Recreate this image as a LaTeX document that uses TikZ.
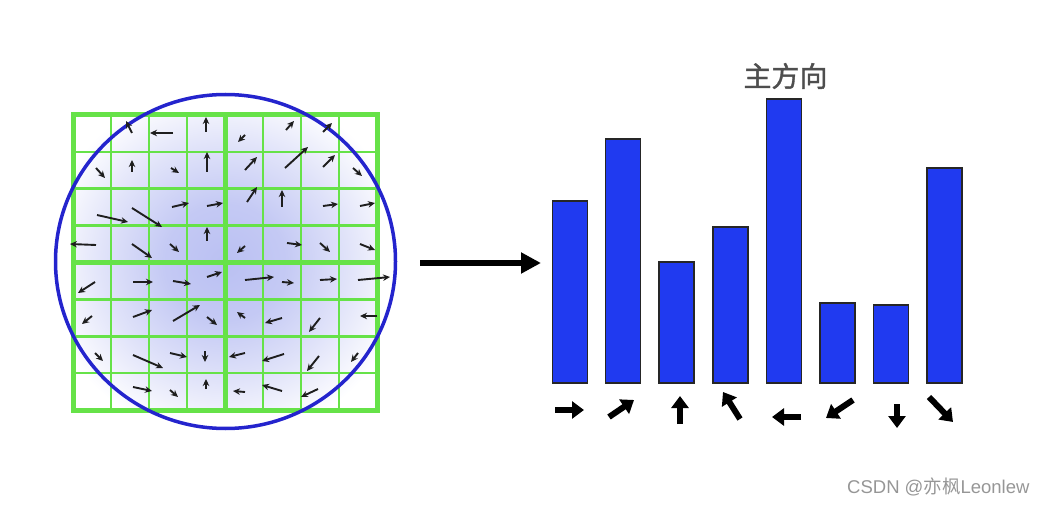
\documentclass[tikz,border=0pt]{standalone}
\usepackage{fontspec}
\newfontfamily\cjk{Noto Sans CJK SC}
\newfontfamily\cjkbold[FakeBold=1.3]{Noto Sans CJK SC}
\newfontfamily\wmfont{Liberation Sans}
\usetikzlibrary{arrows.meta}
\definecolor{gridgreen}{RGB}{102,226,72}
\definecolor{ringblue}{RGB}{36,36,205}
\definecolor{barblue}{RGB}{32,58,240}
\definecolor{glowblue}{RGB}{186,192,242}
\definecolor{titlegray}{RGB}{78,78,78}
\definecolor{wmgray}{RGB}{150,150,150}
\definecolor{arrowdark}{RGB}{30,30,30}
\pgfdeclareradialshading{glow}{\pgfpoint{0bp}{0bp}}{color(0bp)=(glowblue); color(10bp)=(glowblue!85!white); color(20bp)=(glowblue!45!white); color(30bp)=(white); color(50bp)=(white)}
\tikzset{
  thingrid/.style={draw=gridgreen, line width=2.5pt},
  thickgrid/.style={draw=gridgreen, line width=5pt},
  ring/.style={draw=ringblue, line width=3.5pt},
  garrow/.style={draw=arrowdark, line width=1.9pt, -{Stealth[length=7pt,width=6.5pt]}},
  histbar/.style={draw=black!85, line width=1.5pt, fill=barblue, inner sep=0pt, outer sep=0pt, anchor=south west, minimum width=35pt},
  dirarrow/.style={draw=black, line width=6pt, -{Triangle[length=12pt,width=17pt]}},
  bigarrow/.style={draw=black, line width=6pt, -{Triangle[length=20pt,width=20pt]}},
}
\begin{document}
\begin{tikzpicture}[x=1pt,y=-1pt]
\useasboundingbox (0,0) rectangle (1039,505);
% background glow
\fill[shading=glow] (73,115) rectangle (377,410);
% grid
\foreach \i in {1,2,3,5,6,7} {
  \pgfmathsetmacro{\xx}{73+38*\i}
  \pgfmathsetmacro{\yy}{115+36.875*\i}
  \draw[thingrid] (\xx,115) -- (\xx,410);
  \draw[thingrid] (73,\yy) -- (377,\yy);
}
\draw[thickgrid] (225,115) -- (225,410);
\draw[thickgrid] (73,262.5) -- (377,262.5);
\draw[thickgrid] (73,115) rectangle (377,410);
% ring
\draw[ring] (225.5,261.5) ellipse [x radius=170, y radius=167];
% gradient arrows
\foreach \a/\b/\c/\d in {
 132/133/126/121, 173/133/150/133, 206/132/206/117, 245/135/238/142, 286/130/294/121, 323/132/332/123,
 96/168/105/178, 132/172/132/160, 171/168/179/173, 207/172/207/152, 245/170/257/157, 285/168/308/147, 323/167/335/155, 353/168/362/176,
 97/215/128/222, 132/208/162/227, 172/207/189/203, 207/206/223/203, 247/202/257/187, 282/207/282/190, 323/206/338/204, 360/206/375/203,
 96/245/70/244, 132/244/152/258, 170/244/179/252, 207/241/207/227, 245/246/237/253, 287/243/302/245, 320/243/330/252, 360/244/375/250,
 95/282/78/293, 133/282/153/282, 173/281/191/284, 207/277/222/272, 245/280/274/277, 282/282/294/283, 320/280/337/279, 358/280/390/277,
 92/316/82/324, 133/317/152/310, 173/321/200/305, 207/317/217/325, 245/318/237/312, 282/318/265/323, 320/318/309/332, 377/316/360/316,
 95/353/103/361, 133/355/163/368, 170/353/187/357, 205/351/205/362, 245/353/229/357, 284/354/262/361, 319/356/307/371, 358/353/351/362,
 133/387/152/391, 170/390/178/397, 206/389/206/379, 245/392/233/391, 282/391/262/385, 318/389/301/397}
 \draw[garrow] (\a,\b) -- (\c,\d);
% big arrow
\coordinate (gridright) at (420,263);
\coordinate (histleft) at (541,263);
\draw[bigarrow] (gridright) -- (histleft);
% histogram bars
\node[histbar, minimum height=182pt] (b1) at (552.5,383) {};
\node[histbar, minimum height=244pt] (b2) at (605.5,383) {};
\node[histbar, minimum height=121pt] (b3) at (659,383) {};
\node[histbar, minimum height=156pt] (b4) at (713,383) {};
\node[histbar, minimum height=284pt] (b5) at (766.5,383) {};
\node[histbar, minimum height=80pt] (b6) at (820,383) {};
\node[histbar, minimum height=78pt] (b7) at (873.5,383) {};
\node[histbar, minimum height=215pt] (b8) at (927,383) {};
% direction arrows
\draw[dirarrow] (555,410) -- (584,410);
\draw[dirarrow] (609,417) -- (634,400);
\draw[dirarrow] (680,424) -- (680,396);
\draw[dirarrow] (740,419) -- (723,392);
\draw[dirarrow] (801,417) -- (772,417);
\draw[dirarrow] (853,400) -- (826,418);
\draw[dirarrow] (897,404) -- (897,428);
\draw[dirarrow] (929,397) -- (953,422);
% title
\node[font=\cjkbold\fontsize{28}{30}\selectfont, text=titlegray] (title) at (785.5,76) {主方向};
% watermark
\node[anchor=west, inner sep=0pt, text=wmgray, font=\wmfont\fontsize{18.5}{20}\selectfont] (wm) at (847,487) {CSDN @{\cjk 亦枫}Leonlew};
\end{tikzpicture}
\end{document}
